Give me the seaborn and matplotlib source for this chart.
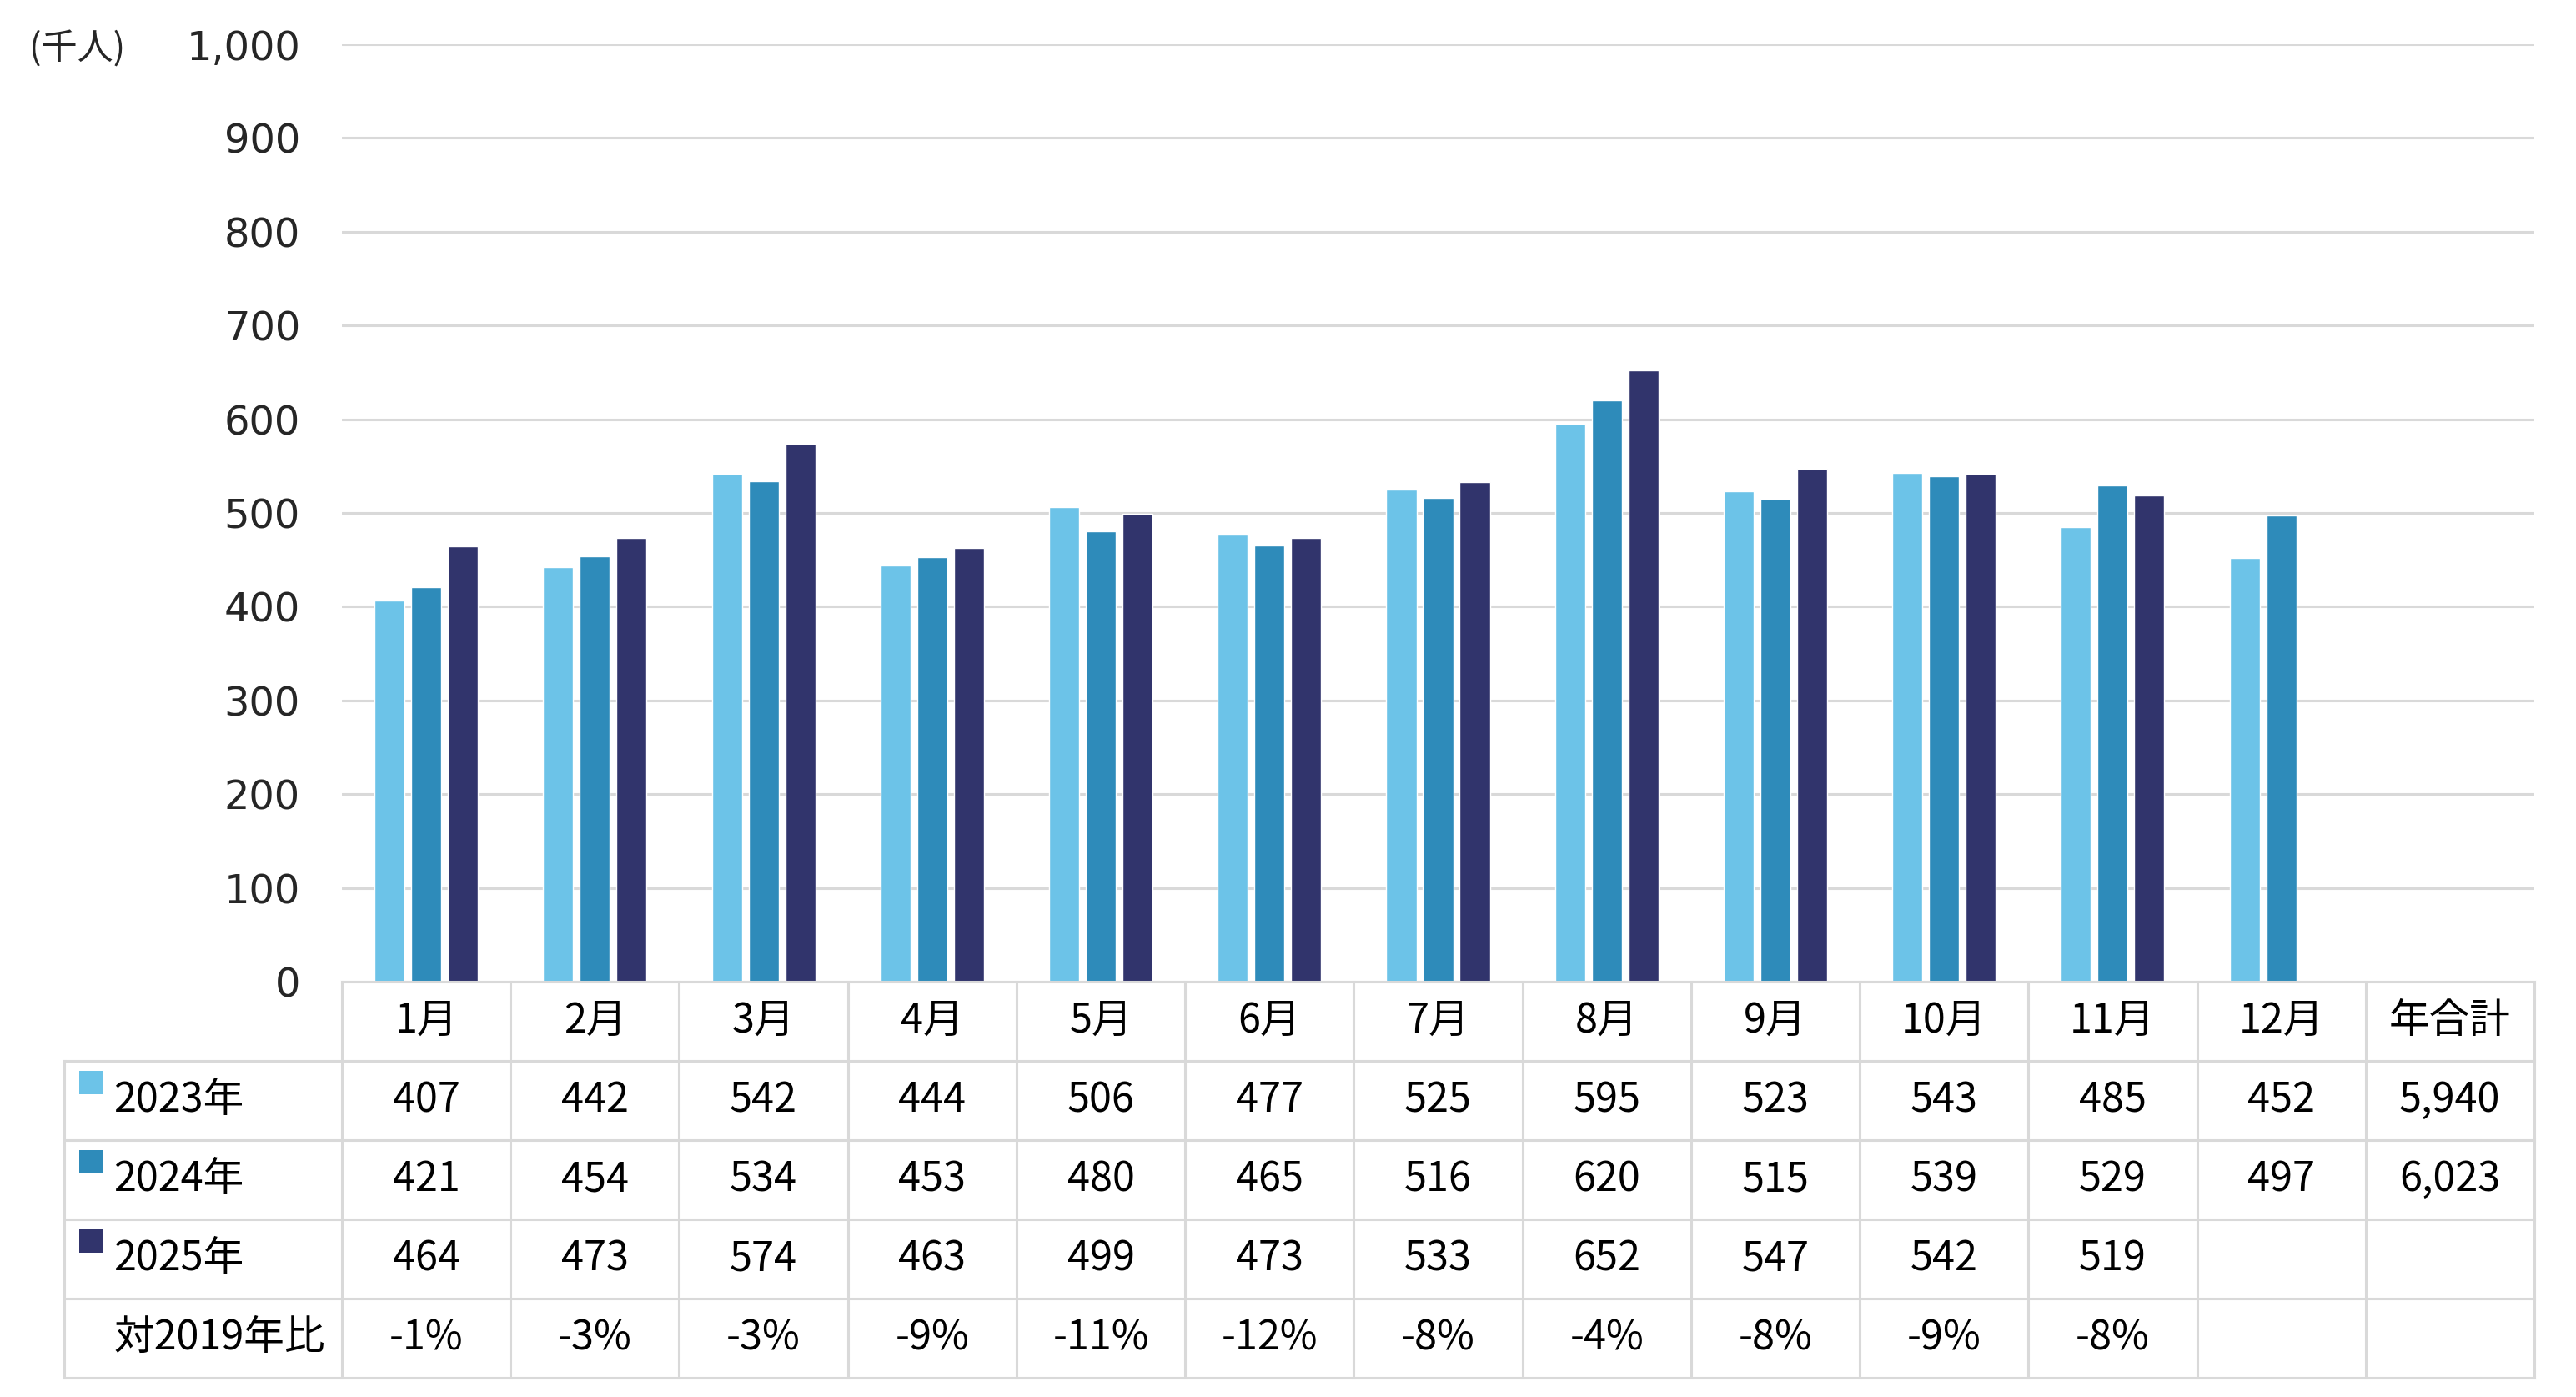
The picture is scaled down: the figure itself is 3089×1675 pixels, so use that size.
import numpy as np
import pandas as pd
import matplotlib
matplotlib.use("Agg")
import matplotlib.pyplot as plt
import seaborn as sns
from matplotlib.patches import Rectangle
from matplotlib.ticker import FuncFormatter

# --- data ---
months = ["1月", "2月", "3月", "4月", "5月", "6月",
          "7月", "8月", "9月", "10月", "11月", "12月"]
total_label = "年合計"
years = ["2023年", "2024年", "2025年"]
v2023 = [407, 442, 542, 444, 506, 477, 525, 595, 523, 543, 485, 452]
v2024 = [421, 454, 534, 453, 480, 465, 516, 620, 515, 539, 529, 497]
v2025 = [464, 473, 574, 463, 499, 473, 533, 652, 547, 542, 519, np.nan]
totals = ["5,940", "6,023", ""]
ratio_label = "対2019年比"
ratio = ["-1%", "-3%", "-3%", "-9%", "-11%", "-12%",
         "-8%", "-4%", "-8%", "-9%", "-8%"]
colors = ["#6CC3E8", "#2E8BBA", "#31346C"]
unit_label = "(千人)"

df = pd.DataFrame({
    "月": months * 3,
    "年": np.repeat(years, len(months)),
    "人数": v2023 + v2024 + v2025,
})

sns.set_theme(style="white")
plt.rcParams["font.family"] = ["Noto Sans CJK JP", "DejaVu Sans"]

W, H = 3089, 1675
fig = plt.figure(figsize=(W / 100, H / 100), dpi=100)
ax_l, ax_r, ax_t, ax_b = 410, 3039, 53, 1177
ax = fig.add_axes([ax_l / W, 1 - ax_b / H, (ax_r - ax_l) / W, (ax_b - ax_t) / H])

sns.barplot(data=df, x="月", y="人数", hue="年",
            order=months + [total_label], hue_order=years,
            palette=colors, saturation=1, width=0.653, gap=0.18,
            errorbar=None, legend=False, ax=ax)

ax.set_ylim(0, 1000)
ax.set_xlim(-0.5, 12.5)
ax.set_yticks(range(0, 1001, 100))
ax.yaxis.set_major_formatter(FuncFormatter(lambda v, p: f"{int(v):,}"))
ax.tick_params(axis="y", length=0, pad=36, labelsize=34.5)
for lab in ax.get_yticklabels():
    lab.set_fontfamily("DejaVu Sans")
ax.set_xticks([])
ax.set_xlabel("")
ax.set_ylabel("")
ax.yaxis.grid(True, color="#D9D9D9", linewidth=2.2)
ax.set_axisbelow(True)
sns.despine(ax=ax, left=True, bottom=True)

fig.text(35 / W, 1 - 60 / H, unit_label, fontsize=31, ha="left", va="center")

# --- data table under the chart ---
pw, ph = ax_r - ax_l, ax_b - ax_t
row_h = 95 / ph
ncol = len(months) + 1
lab_left = (77 - ax_l) / pw
line_kw = dict(color="#D9D9D9", linewidth=2.2, transform=ax.transAxes,
               clip_on=False, solid_capstyle="projecting")

ax.plot([0, 1], [0, 0], **line_kw)
for i in range(1, 6):
    ax.plot([lab_left, 1], [-i * row_h] * 2, **line_kw)
ax.plot([lab_left] * 2, [-row_h, -5 * row_h], **line_kw)
for k in range(ncol + 1):
    ax.plot([k / ncol] * 2, [0, -5 * row_h], **line_kw)

txt_kw = dict(fontsize=35, transform=ax.transAxes, va="center", color="black")

for k, name in enumerate(months + [total_label]):
    ax.text((k + 0.5) / ncol, -0.5 * row_h, name, ha="center", **txt_kw)

for i, (yr, vals, tot, c) in enumerate(zip(years, [v2023, v2024, v2025], totals, colors)):
    yc = -(i + 1.5) * row_h
    for k, v in enumerate(vals):
        if not np.isnan(v):
            ax.text((k + 0.5) / ncol, yc, f"{int(v):,}", ha="center", **txt_kw)
    ax.text((ncol - 0.5) / ncol, yc, tot, ha="center", **txt_kw)
    ax.add_patch(Rectangle(((95 - ax_l) / pw, yc + 0.08 * row_h), 28 / pw, 28 / ph,
                           transform=ax.transAxes, clip_on=False,
                           facecolor=c, edgecolor="none"))
    ax.text((136 - ax_l) / pw, yc, yr, ha="left", **txt_kw)

yc = -4.5 * row_h
for k, r in enumerate(ratio):
    ax.text((k + 0.5) / ncol, yc, r, ha="center", **txt_kw)
ax.text((136 - ax_l) / pw, yc, ratio_label, ha="left", **txt_kw)

fig.savefig("out.png", dpi=100, facecolor="white")
